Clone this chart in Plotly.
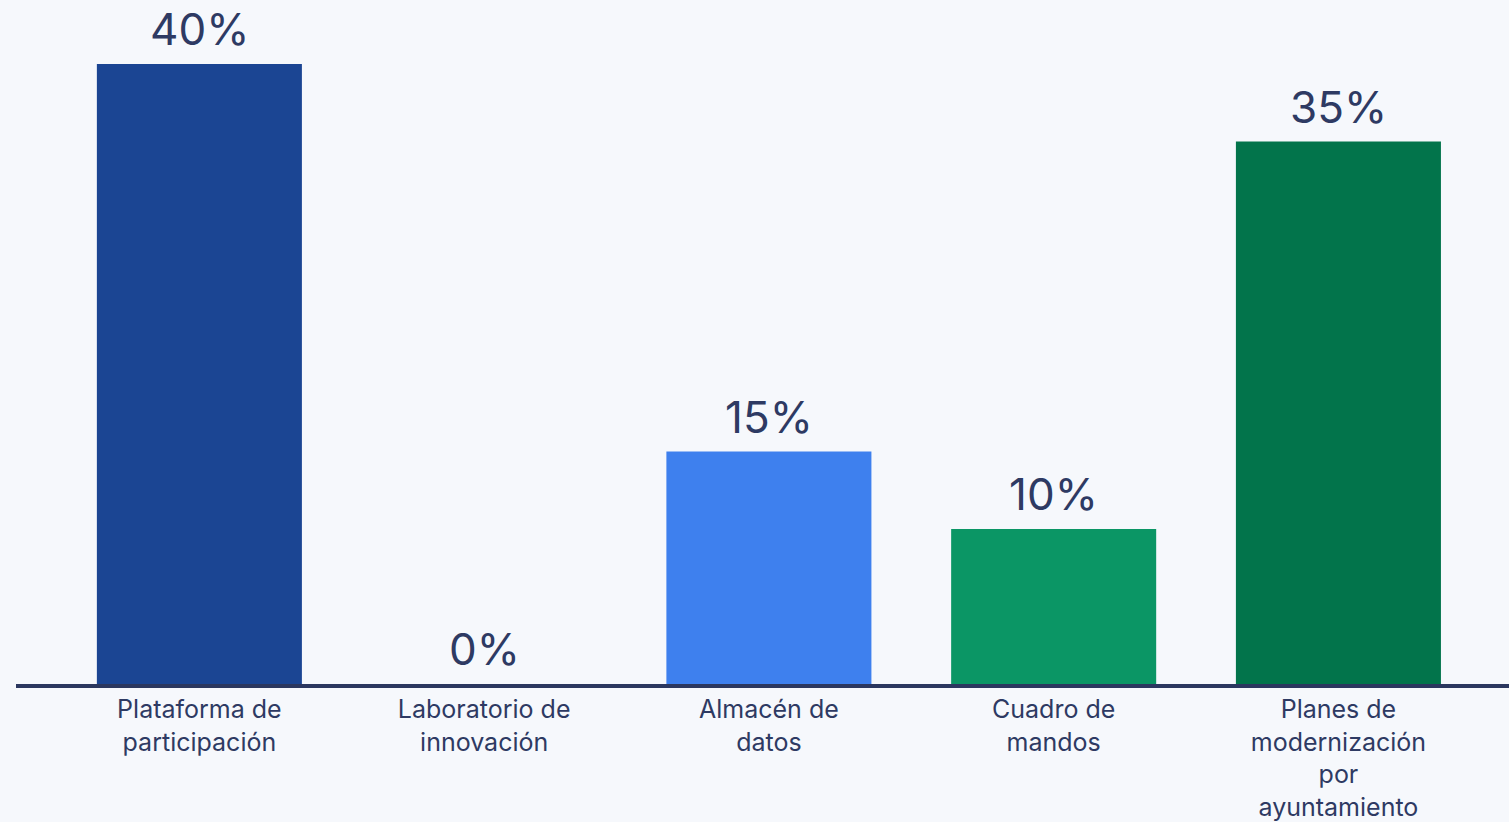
import plotly.graph_objects as go

categories = ["Plataforma de<br>participación", "Laboratorio de<br>innovación", "Almacén de<br>datos",
              "Cuadro de<br>mandos", "Planes de<br>modernización<br>por<br>ayuntamiento"]
values = [40, 0, 15, 10, 35]
labels = ["40%", "0%", "15%", "10%", "35%"]
colors = ["#1b4593", "#1b4593", "#3e80ee", "#0b9665", "#02744b"]

TEXT = "#2e3a63"
BG = "#f6f8fc"

fig = go.Figure(go.Bar(
    x=categories, y=values,
    marker=dict(color=colors, line=dict(width=0)),
    cliponaxis=False, hoverinfo="x+y",
))

for cat, val, lab in zip(categories, values, labels):
    fig.add_annotation(x=cat, y=val, text=lab, showarrow=False, yanchor="bottom",
                       yshift=6, font=dict(family="Inter", size=44, color=TEXT))

fig.update_layout(
    width=1509, height=822,
    paper_bgcolor=BG, plot_bgcolor=BG,
    margin=dict(l=16, r=0, t=20, b=138, autoexpand=False),
    bargap=0.28,
    showlegend=False,
    font=dict(family="Inter", color=TEXT),
)
fig.update_xaxes(
    range=[-0.644, 4.599], automargin=False,
    showline=True, linecolor="#2b375f", linewidth=4,
    showgrid=False, zeroline=False, ticks="",
    tickfont=dict(family="Inter", size=25, color=TEXT),
)
fig.update_yaxes(range=[0, 42.84], visible=False, showgrid=False, zeroline=False, automargin=False)

fig.write_html("out.html", config={"displayModeBar": False},
               post_script="document.body.style.margin='0';document.body.style.padding='0';document.body.style.background='%s';" % BG)
